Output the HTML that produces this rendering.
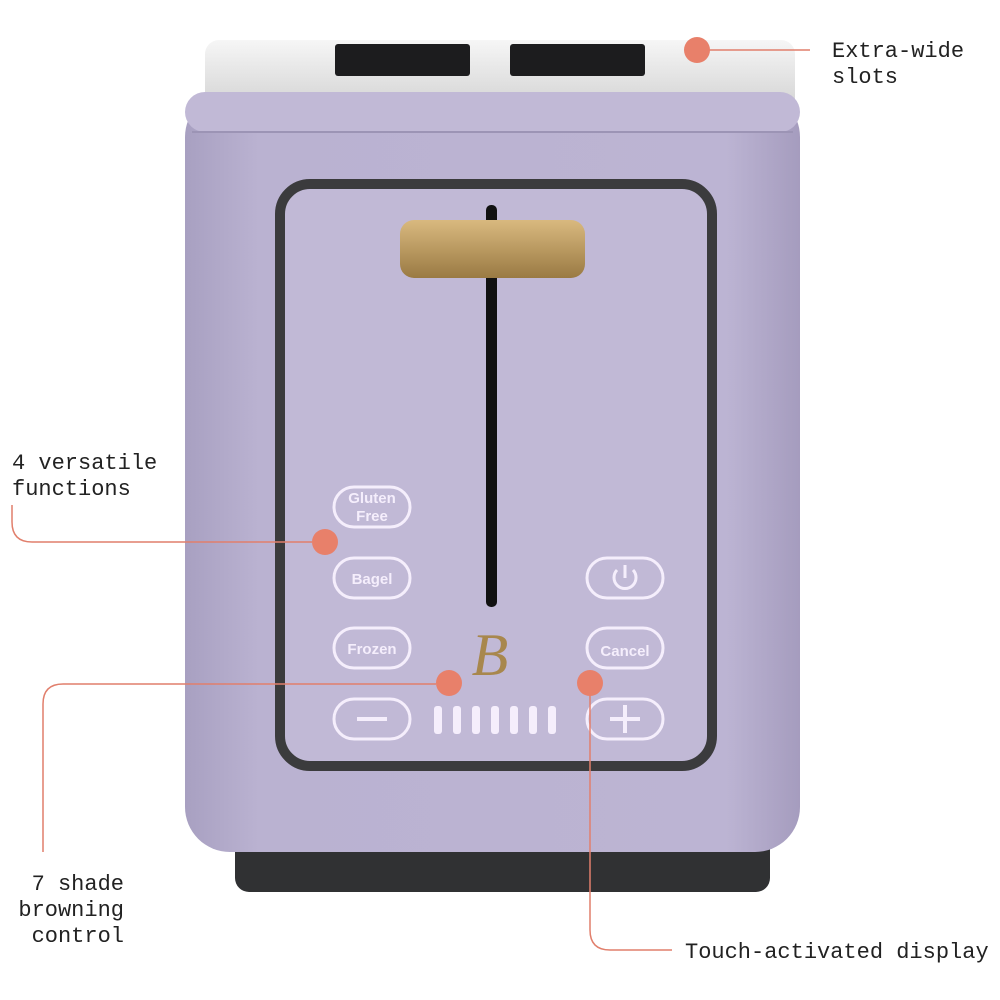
<!DOCTYPE html>
<html><head><style>
html,body{margin:0;padding:0;background:#fff;}
svg{display:block}
</style></head><body>
<svg width="1000" height="1000" viewBox="0 0 1000 1000" xmlns="http://www.w3.org/2000/svg">
<defs>
<linearGradient id="body" x1="0" x2="1" y1="0" y2="0">
<stop offset="0" stop-color="#a8a0c1"/><stop offset="0.12" stop-color="#bab2d1"/><stop offset="0.88" stop-color="#bcb4d3"/><stop offset="1" stop-color="#a59cbe"/>
</linearGradient>
<linearGradient id="gold" x1="0" x2="0" y1="0" y2="1">
<stop offset="0" stop-color="#d9b97f"/><stop offset="1" stop-color="#9a7a43"/>
</linearGradient>
<linearGradient id="lid" x1="0" x2="0" y1="0" y2="1">
<stop offset="0" stop-color="#f6f6f6"/><stop offset="1" stop-color="#d0d0d0"/>
</linearGradient>
</defs>
<!-- base -->
<rect x="235" y="820" width="535" height="72" rx="14" fill="#303133"/>
<!-- lid -->
<rect x="205" y="40" width="590" height="75" rx="14" fill="url(#lid)"/>
<rect x="335" y="44" width="135" height="32" rx="3" fill="#1c1c1e"/>
<rect x="510" y="44" width="135" height="32" rx="3" fill="#1c1c1e"/>
<!-- body -->
<rect x="185" y="92" width="615" height="760" rx="45" fill="url(#body)"/>
<rect x="185" y="92" width="615" height="40" rx="20" fill="#c1b9d6"/>
<line x1="192" y1="132" x2="793" y2="132" stroke="#9c94b5" stroke-width="2"/>
<!-- panel -->
<rect x="280" y="184" width="432" height="582" rx="30" fill="#c1b9d6" stroke="#3b3b3d" stroke-width="10"/>
<!-- lever slot -->
<rect x="486" y="205" width="11" height="402" rx="5" fill="#111"/>
<rect x="400" y="220" width="185" height="58" rx="14" fill="url(#gold)"/>
<!-- B logo -->
<text x="490" y="675" font-family="Liberation Serif, serif" font-size="60" font-style="italic" fill="#a8874d" text-anchor="middle">B</text>
<!-- buttons -->
<g fill="none" stroke="#f5eefc" stroke-width="3">
<rect x="334" y="487" width="76" height="40" rx="20"/>
<rect x="334" y="558" width="76" height="40" rx="20"/>
<rect x="334" y="628" width="76" height="40" rx="20"/>
<rect x="334" y="699" width="76" height="40" rx="20"/>
<rect x="587" y="558" width="76" height="40" rx="20"/>
<rect x="587" y="628" width="76" height="40" rx="20"/>
<rect x="587" y="699" width="76" height="40" rx="20"/>
<line x1="357" y1="719" x2="387" y2="719" stroke-width="4"/>
<line x1="610" y1="719" x2="640" y2="719" stroke-width="4"/>
<line x1="625" y1="705" x2="625" y2="733" stroke-width="4"/>
<path d="M617 570 A11 11 0 1 0 633 570" stroke-width="3"/>
<line x1="625" y1="565" x2="625" y2="578" stroke-width="3"/>
</g>
<g font-family="Liberation Sans, sans-serif" font-weight="bold" font-size="15" fill="#f5eefc" text-anchor="middle">
<text x="372" y="503">Gluten</text><text x="372" y="521">Free</text>
<text x="372" y="584">Bagel</text>
<text x="372" y="654">Frozen</text>
<text x="625" y="656">Cancel</text>
</g>
<g fill="#f5eefc">
<rect x="434" y="706" width="8" height="28" rx="3"/>
<rect x="453" y="706" width="8" height="28" rx="3"/>
<rect x="472" y="706" width="8" height="28" rx="3"/>
<rect x="491" y="706" width="8" height="28" rx="3"/>
<rect x="510" y="706" width="8" height="28" rx="3"/>
<rect x="529" y="706" width="8" height="28" rx="3"/>
<rect x="548" y="706" width="8" height="28" rx="3"/>
</g>
<!-- callout lines -->
<g fill="none" stroke="#e17f6c" stroke-width="1.5">
<line x1="697" y1="50" x2="810" y2="50"/>
<path d="M12 505 L12 522 Q12 542 32 542 L312 542"/>
<path d="M436 684 L63 684 Q43 684 43 704 L43 852"/>
<path d="M590 684 L590 930 Q590 950 610 950 L672 950"/>
</g>
<g fill="#e8806a">
<circle cx="697" cy="50" r="13"/>
<circle cx="325" cy="542" r="13"/>
<circle cx="449" cy="683" r="13"/>
<circle cx="590" cy="683" r="13"/>
</g>
<g font-family="Liberation Mono, monospace" font-size="22" fill="#222">
<text x="832" y="57">Extra-wide</text>
<text x="832" y="83">slots</text>
<text x="12" y="469">4 versatile</text>
<text x="12" y="495">functions</text>
<text x="124" y="890" text-anchor="end">7 shade</text>
<text x="124" y="916" text-anchor="end">browning</text>
<text x="124" y="942" text-anchor="end">control</text>
<text x="685" y="958">Touch-activated display</text>
</g>
</svg>
</body></html>
